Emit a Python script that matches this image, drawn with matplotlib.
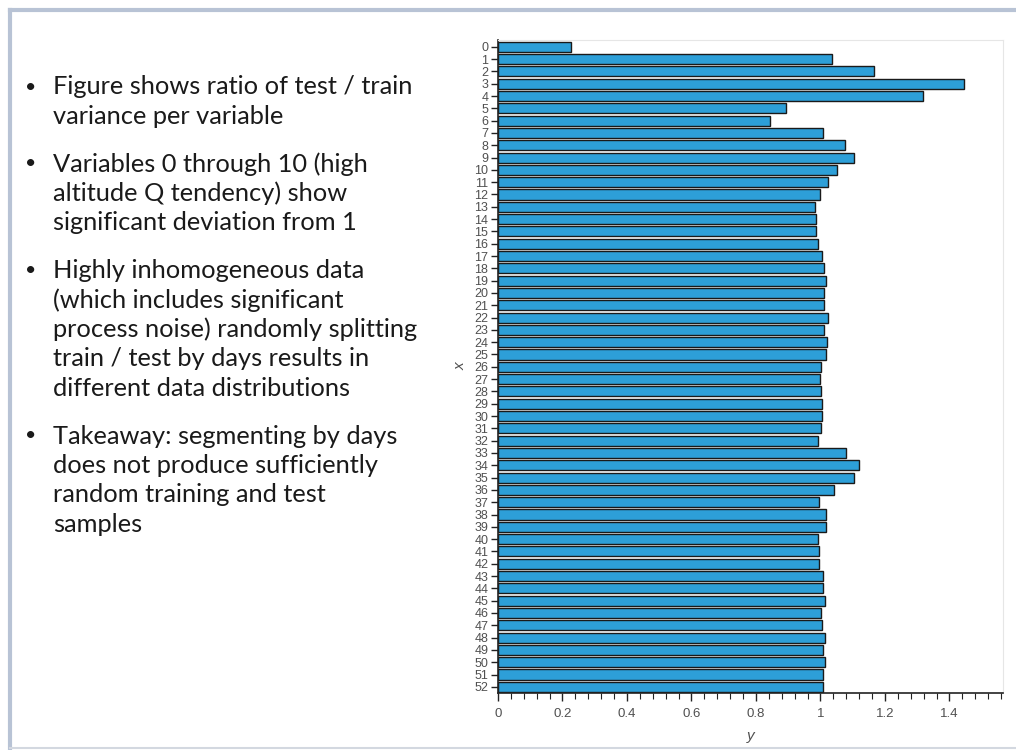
import matplotlib
matplotlib.use("Agg")
import matplotlib.pyplot as plt
from matplotlib.ticker import MultipleLocator, FuncFormatter
from matplotlib.lines import Line2D

# ratio of test / train variance per variable
variables = list(range(53))
ratio = [0.226, 1.036, 1.166, 1.445, 1.318, 0.893, 0.843, 1.008, 1.076, 1.104,
         1.051, 1.023, 0.999, 0.983, 0.986, 0.986, 0.993, 1.005, 1.011, 1.017,
         1.011, 1.010, 1.024, 1.012, 1.019, 1.018, 1.003, 0.998, 1.002, 1.006,
         1.004, 1.001, 0.991, 1.080, 1.119, 1.104, 1.042, 0.994, 1.016, 1.016,
         0.991, 0.996, 0.995, 1.007, 1.008, 1.014, 1.003, 1.004, 1.014, 1.009,
         1.013, 1.007, 1.009]

bullets = [
    ["Figure shows ratio of test / train", "variance per variable"],
    ["Variables 0 through 10 (high", "altitude Q tendency) show",
     "significant deviation from 1"],
    ["Highly inhomogeneous data", "(which includes significant",
     "process noise) randomly splitting", "train / test by days results in",
     "different data distributions"],
    ["Takeaway: segmenting by days", "does not produce sufficiently",
     "random training and test", "samples"],
]

W, H = 1016, 750
fig = plt.figure(figsize=(W / 100, H / 100), dpi=100)
fig.patch.set_facecolor("white")

# slide frame
frame = "#b8c3d5"
fig.add_artist(Line2D([10 / W, 10 / W], [1 - 10 / H, 1 - 748 / H], color=frame, lw=3, transform=fig.transFigure))
fig.add_artist(Line2D([10 / W, 1], [1 - 10 / H, 1 - 10 / H], color=frame, lw=3, transform=fig.transFigure))
fig.add_artist(Line2D([10 / W, 1], [1 - 748 / H, 1 - 748 / H], color="#d3d8e0", lw=1.5, transform=fig.transFigure))

# bullet text
y = 87
for lines in bullets:
    fig.text(25 / W, 1 - y / H, "\u2022", fontsize=14, family="Lato", color="#1a1a1a", va="center")
    for ln in lines:
        fig.text(53 / W, 1 - y / H, ln, fontsize=18.3, family="Lato", color="#1a1a1a", va="center")
        y += 29.5
    y += 18

# bar chart
ax = fig.add_axes([498 / W, 1 - 693 / H, (1003 - 498) / W, (693 - 40) / H])
ax.barh(variables, ratio, height=0.82, color="#2d9fd8", edgecolor="#1a1a1a", linewidth=1.0)
ax.set_ylim(52.5, -0.55)
ax.set_xlim(0, 1.566)
ax.set_yticks(variables)
ax.set_yticklabels([str(v) for v in variables])
ax.xaxis.set_major_locator(MultipleLocator(0.2))
ax.xaxis.set_minor_locator(MultipleLocator(0.04))
ax.xaxis.set_major_formatter(FuncFormatter(lambda v, p: "%g" % round(v, 2)))

for s in ["top", "right"]:
    ax.spines[s].set_color("#e6e6e6")
for s in ["left", "bottom"]:
    ax.spines[s].set_color("#222222")
    ax.spines[s].set_linewidth(1.2)

ax.tick_params(axis="y", length=5, width=1, color="#222222", labelsize=9, labelcolor="#505050", pad=2)
ax.tick_params(axis="x", which="major", length=6, width=1, color="#222222", labelsize=9.5, labelcolor="#505050", pad=5)
ax.tick_params(axis="x", which="minor", length=4, width=0.8, color="#222222")
for t in ax.get_xticklabels() + ax.get_yticklabels():
    t.set_family("Liberation Sans")

ax.set_xlabel("y", fontsize=11, color="#505050", style="italic", family="Liberation Sans", labelpad=6)
ax.set_ylabel("x", fontsize=11, color="#505050", style="italic", family="Liberation Sans", labelpad=5)

fig.savefig("out.png", dpi=100)
